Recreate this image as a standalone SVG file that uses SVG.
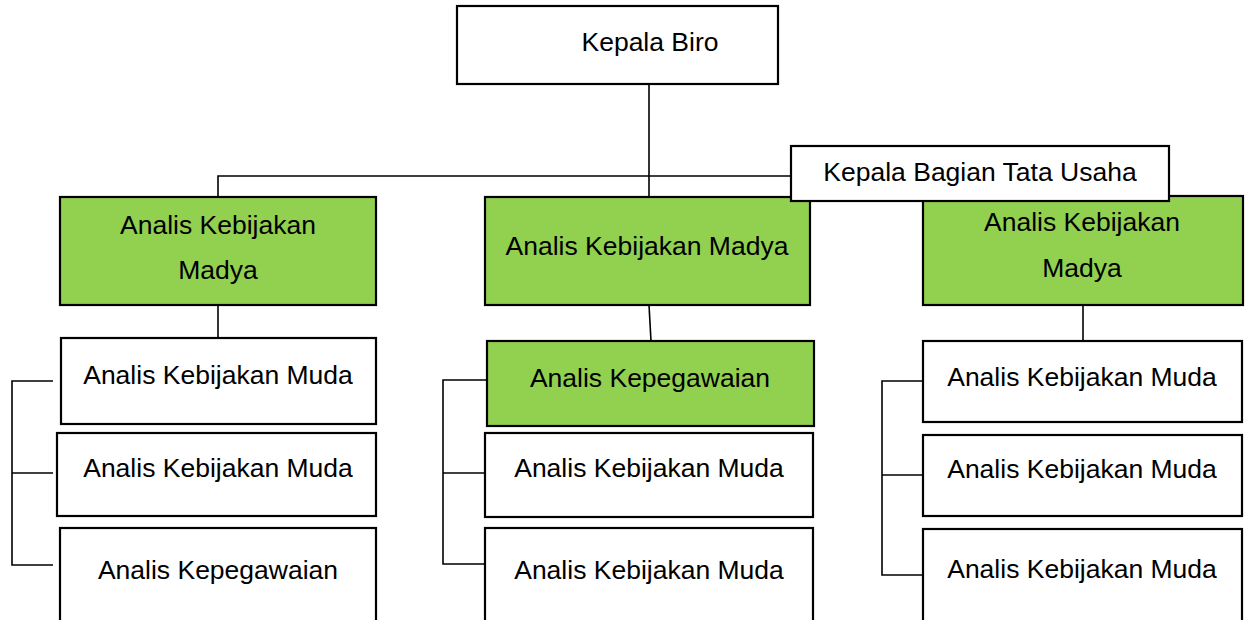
<svg xmlns="http://www.w3.org/2000/svg" width="1251" height="620" viewBox="0 0 1251 620">
<style>
.box{fill:#ffffff;stroke:#000000;stroke-width:2.2}
.green{fill:#92D050;stroke:#000000;stroke-width:2.2}
.lbl{font-family:"Liberation Sans",Arial,sans-serif;font-size:26.5px;fill:#000000;text-anchor:middle}
.con{fill:none;stroke:#000000;stroke-width:1.6}
</style>
<rect width="1251" height="620" fill="#ffffff"/>
<g id="connectors">
<line class="con" x1="649" y1="84" x2="649" y2="197"/>
<polyline class="con" points="218,197 218,176 792,176"/>
<line class="con" x1="218" y1="305" x2="218" y2="338"/>
<line class="con" x1="649" y1="305" x2="651" y2="341"/>
<line class="con" x1="1083" y1="305" x2="1083" y2="341"/>
<polyline class="con" points="53,381 12,381 12,565 53,565"/>
<line class="con" x1="12" y1="473" x2="53" y2="473"/>
<polyline class="con" points="486,380 443,380 443,564 486,564"/>
<line class="con" x1="443" y1="473" x2="486" y2="473"/>
<polyline class="con" points="923,381 882,381 882,575 923,575"/>
<line class="con" x1="882" y1="475" x2="923" y2="475"/>
</g>
<g id="kepala-biro">
<rect class="box" x="457" y="6" width="321" height="78"/>
<text class="lbl" x="650" y="51">Kepala Biro</text>
</g>
<g id="akm-left">
<rect class="green" x="60" y="197" width="316" height="108"/>
<text class="lbl" x="218" y="234">Analis Kebijakan</text>
<text class="lbl" x="218" y="279">Madya</text>
</g>
<g id="akm-center">
<rect class="green" x="485" y="197" width="325" height="108"/>
<text class="lbl" x="647" y="255">Analis Kebijakan Madya</text>
</g>
<g id="akm-right">
<rect class="green" x="923" y="196" width="320" height="109"/>
<text class="lbl" x="1082" y="231">Analis Kebijakan</text>
<text class="lbl" x="1082" y="277">Madya</text>
</g>
<g id="kepala-bagian">
<rect class="box" x="791" y="146" width="378" height="55"/>
<text class="lbl" x="980" y="181">Kepala Bagian Tata Usaha</text>
</g>
<g id="l1">
<rect class="box" x="61" y="338" width="315" height="86"/>
<text class="lbl" x="218" y="384">Analis Kebijakan Muda</text>
</g>
<g id="l2">
<rect class="box" x="57" y="433" width="319" height="83"/>
<text class="lbl" x="218" y="477">Analis Kebijakan Muda</text>
</g>
<g id="l3">
<rect class="box" x="60" y="528" width="316" height="100"/>
<text class="lbl" x="218" y="579">Analis Kepegawaian</text>
</g>
<g id="m1">
<rect class="green" x="487" y="341" width="327" height="85"/>
<text class="lbl" x="650" y="387">Analis Kepegawaian</text>
</g>
<g id="m2">
<rect class="box" x="485" y="433" width="328" height="84"/>
<text class="lbl" x="649" y="477">Analis Kebijakan Muda</text>
</g>
<g id="m3">
<rect class="box" x="485" y="528" width="328" height="100"/>
<text class="lbl" x="649" y="579">Analis Kebijakan Muda</text>
</g>
<g id="r1">
<rect class="box" x="923" y="341" width="319" height="81"/>
<text class="lbl" x="1082" y="386">Analis Kebijakan Muda</text>
</g>
<g id="r2">
<rect class="box" x="923" y="435" width="319" height="81"/>
<text class="lbl" x="1082" y="478">Analis Kebijakan Muda</text>
</g>
<g id="r3">
<rect class="box" x="923" y="529" width="319" height="100"/>
<text class="lbl" x="1082" y="578">Analis Kebijakan Muda</text>
</g>
</svg>
